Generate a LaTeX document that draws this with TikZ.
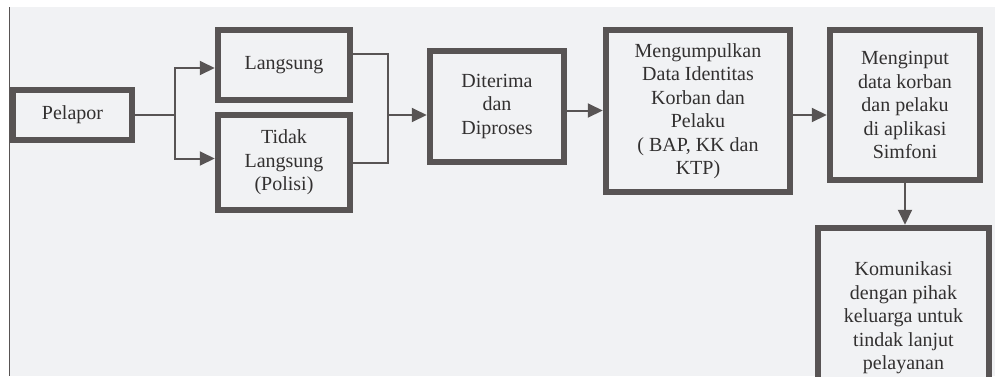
\documentclass[tikz,border=0pt]{standalone}
\usepackage{xcolor}
\usepackage{fontspec}
\setmainfont{Liberation Serif}
\usepackage{tikz}
\usetikzlibrary {arrows.meta,positioning}

\definecolor{paper}{RGB}{241,242,244}
\definecolor{ink}{RGB}{88,84,84}
\definecolor{txt}{RGB}{50,48,48}

\tikzset{
  box/.style={draw=ink, line width=6.5pt, fill=paper, text=txt, align=center,
    font=\fontsize{20}{23.5}\selectfont, inner sep=2pt},
  link/.style={draw=ink, line width=2pt},
  arrow/.style={link, -{Triangle[length=15pt,width=14pt]}}
}

\begin{document}
\begin{tikzpicture}[x=1pt,y=-1pt]
\useasboundingbox (0,0) rectangle (995,376);
\fill [white] (0,0) rectangle (995,376);
\fill [paper] (9,7) rectangle (995,376);
\draw [ink, line width=1pt] (9,7) -- (9,376);

\node (Pelapor) at (72.5,115) [box, minimum width=119pt, minimum height=50pt] {Pelapor};
\node (Langsung) at (284,65) [box, minimum width=132pt, minimum height=70pt] {Langsung};
\node (Tidak) at (284,162.5) [box, minimum width=132pt, minimum height=95pt] {Tidak\\Langsung\\(Polisi)};
\node (Diterima) at (497,106.5) [box, minimum width=134pt, minimum height=111pt] {Diterima\\dan\\Diproses};
\node (Kumpul) at (698,111) [box, minimum width=184pt, minimum height=162pt] {Mengumpulkan\\Data Identitas\\Korban dan\\Pelaku\\( BAP, KK dan\\KTP)};
\node (Input) at (905,105) [box, minimum width=150pt, minimum height=150pt] {Menginput\\data korban\\dan pelaku\\di aplikasi\\Simfoni};
\node (Komunikasi) at (903.5,318) [box, minimum width=171pt, minimum height=180pt] {Komunikasi\\dengan pihak\\keluarga untuk\\tindak lanjut\\pelayanan};

\coordinate (split) at (175,115);
\coordinate (join) at (388,115);

\draw [link] (Pelapor.east) -- (split);
\draw [arrow] (split) |- ([yshift=-3pt]Langsung.west);
\draw [arrow] (split) |- ([yshift=4pt]Tidak.west);
\draw [link] ([yshift=11pt]Langsung.east) -| (join);
\draw [link] (Tidak.east) -| (join);
\draw [arrow] (join) -- (Diterima.west |- join);
\draw [arrow] ([yshift=-4pt]Diterima.east) -- ([yshift=-4pt]Diterima.east -| Kumpul.west);
\draw [arrow] ([yshift=-4pt]Kumpul.east) -- ([yshift=-4pt]Kumpul.east -| Input.west);
\draw [arrow] (Input.south) -- (Komunikasi.north -| Input.south);
\end{tikzpicture}
\end{document}
